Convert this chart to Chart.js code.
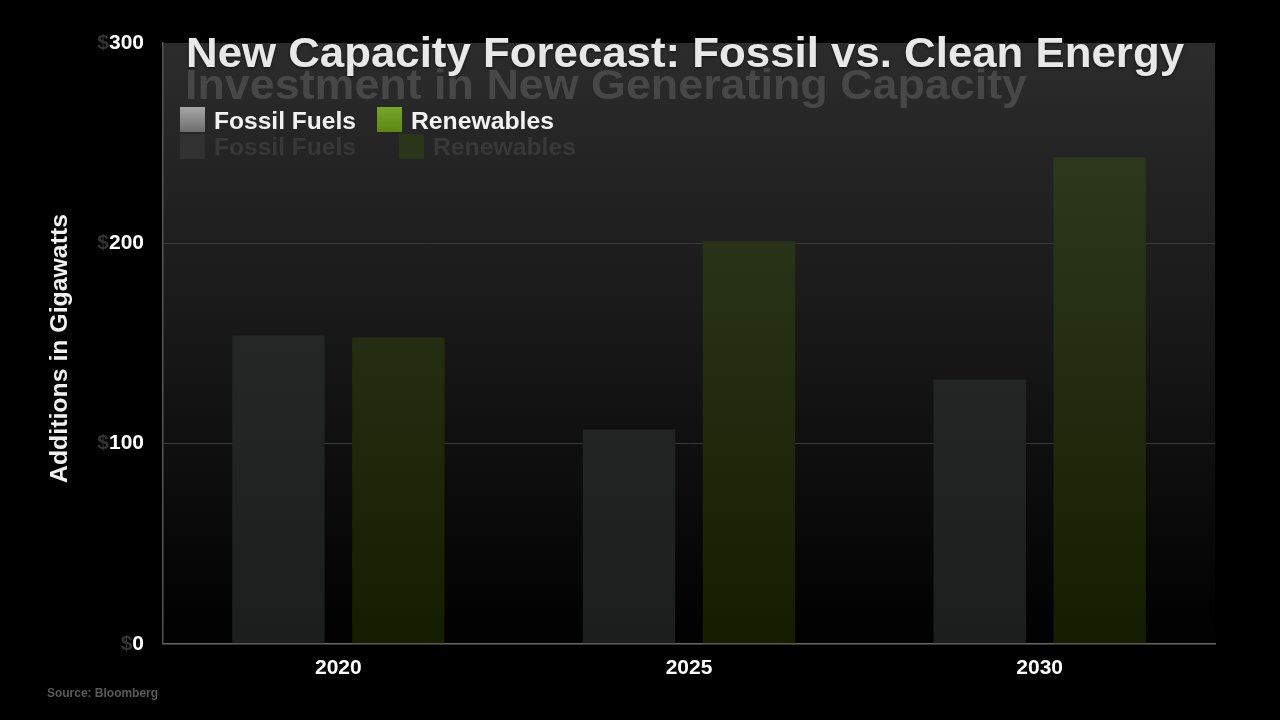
<!DOCTYPE html>
<html>
<head>
<meta charset="utf-8">
<script src="https://cdn.jsdelivr.net/npm/chart.js@4/dist/chart.umd.min.js"></script>
<style>
  html, body { margin: 0; background: #000; }
</style>
</head>
<body>
<canvas id="chart" width="1280" height="720"></canvas>
<script>
// values (gigawatts)
const years = ['2020', '2025', '2030'];
const fossilFuels = [154, 107, 132];
const renewables = [153, 201, 243];
const yTicks = [0, 100, 200, 300];

const FONT = '"Liberation Sans", Arial, sans-serif';

function areaGradient(chart, top, bottom) {
  const a = chart.chartArea;
  if (!a) return top;
  const g = chart.ctx.createLinearGradient(0, a.top, 0, a.bottom);
  g.addColorStop(0, top);
  g.addColorStop(1, bottom);
  return g;
}

// draw text left-aligned, stretched horizontally to a given width
function fitText(ctx, text, x, y, width) {
  const w = ctx.measureText(text).width;
  ctx.save();
  ctx.translate(x, y);
  ctx.scale(width / w, 1);
  ctx.fillText(text, 0, 0);
  ctx.restore();
}

const decorations = {
  id: 'decorations',
  beforeDraw(chart) {
    const { ctx, chartArea: a } = chart;
    ctx.save();
    const g = ctx.createLinearGradient(0, a.top, 0, a.bottom);
    g.addColorStop(0, '#2b2c2b');
    g.addColorStop(0.5, '#161716');
    g.addColorStop(1, '#000000');
    ctx.fillStyle = g;
    ctx.fillRect(a.left, a.top, a.right - a.left, a.bottom - a.top);
    ctx.restore();
  },
  afterDraw(chart) {
    const { ctx } = chart;
    const y = chart.scales.y;
    ctx.save();

    // y tick labels, faded "$" + white number
    ctx.font = 'bold 21px ' + FONT;
    ctx.textBaseline = 'middle';
    yTicks.forEach(v => {
      const py = y.getPixelForValue(v);
      const num = String(v);
      const right = 144;
      ctx.textAlign = 'right';
      ctx.fillStyle = '#ffffff';
      ctx.fillText(num, right, py);
      const w = ctx.measureText(num).width;
      ctx.fillStyle = '#333333';
      ctx.fillText('$', right - w, py);
    });

    // y axis title
    ctx.save();
    ctx.translate(61, 349);
    ctx.rotate(-Math.PI / 2);
    ctx.textAlign = 'left';
    ctx.textBaseline = 'middle';
    ctx.font = 'bold 23px ' + FONT;
    ctx.fillStyle = '#f0f0f0';
    fitText(ctx, 'Additions in Gigawatts', -134, 0, 269);
    ctx.restore();

    ctx.textAlign = 'left';
    ctx.textBaseline = 'alphabetic';

    // ghost subtitle (under the title)
    ctx.font = 'bold 42px ' + FONT;
    ctx.fillStyle = '#474747';
    fitText(ctx, 'Investment in New Generating Capacity', 185, 99, 842);

    // title
    ctx.font = 'bold 42px ' + FONT;
    ctx.shadowColor = 'rgba(0,0,0,0.6)';
    ctx.shadowBlur = 3;
    ctx.shadowOffsetY = 1;
    ctx.fillStyle = '#e8e8e8';
    fitText(ctx, 'New Capacity Forecast: Fossil vs. Clean Energy', 186, 67, 998);
    ctx.shadowColor = 'transparent';

    // legend
    let sg = ctx.createLinearGradient(0, 107, 0, 132);
    sg.addColorStop(0, '#a6a7a6');
    sg.addColorStop(1, '#6c6d6c');
    ctx.fillStyle = sg;
    ctx.fillRect(180, 107, 25, 25);
    sg = ctx.createLinearGradient(0, 107, 0, 132);
    sg.addColorStop(0, '#78a62a');
    sg.addColorStop(1, '#5a8812');
    ctx.fillStyle = sg;
    ctx.fillRect(377, 107, 25, 25);
    ctx.font = 'bold 23px ' + FONT;
    ctx.fillStyle = '#f2f2f2';
    fitText(ctx, 'Fossil Fuels', 214, 129, 142);
    fitText(ctx, 'Renewables', 411, 129, 143);

    // ghost legend
    ctx.fillStyle = '#303130';
    ctx.fillRect(180, 134, 25, 25);
    ctx.fillStyle = '#2a3519';
    ctx.fillRect(399, 134, 25, 25);
    ctx.fillStyle = '#383838';
    fitText(ctx, 'Fossil Fuels', 214, 155, 142);
    fitText(ctx, 'Renewables', 433, 155, 143);

    // source
    ctx.font = 'bold 12px ' + FONT;
    ctx.fillStyle = '#5a5a5a';
    fitText(ctx, 'Source: Bloomberg', 47, 697, 111);

    ctx.restore();
  }
};

new Chart(document.getElementById('chart'), {
  type: 'bar',
  data: {
    labels: years,
    datasets: [
      {
        label: 'Fossil Fuels',
        data: fossilFuels,
        backgroundColor: ctx => areaGradient(ctx.chart, '#2e302f', '#1c1e1d')
      },
      {
        label: 'Renewables',
        data: renewables,
        backgroundColor: ctx => areaGradient(ctx.chart, '#333e22', '#151d00')
      }
    ]
  },
  options: {
    responsive: false,
    animation: false,
    categoryPercentage: 0.684,
    barPercentage: 0.77,
    layout: { padding: { left: 163, right: 65, top: 43, bottom: 27 } },
    plugins: {
      legend: { display: false },
      title: { display: false },
      tooltip: { enabled: false }
    },
    scales: {
      x: {
        grid: { display: false, drawTicks: false },
        border: { color: '#666666', width: 1.5 },
        ticks: {
          color: '#ffffff',
          padding: 12,
          font: { family: FONT, size: 21, weight: 'bold' }
        }
      },
      y: {
        min: 0,
        max: 300,
        ticks: { display: false, stepSize: 100 },
        grid: {
          drawTicks: false,
          color: ctx => (ctx.tick && (ctx.tick.value === 100 || ctx.tick.value === 200)) ? '#383938' : 'rgba(0,0,0,0)'
        },
        border: { color: '#555555', width: 1.5 }
      }
    }
  },
  plugins: [decorations]
});
</script>
</body>
</html>
